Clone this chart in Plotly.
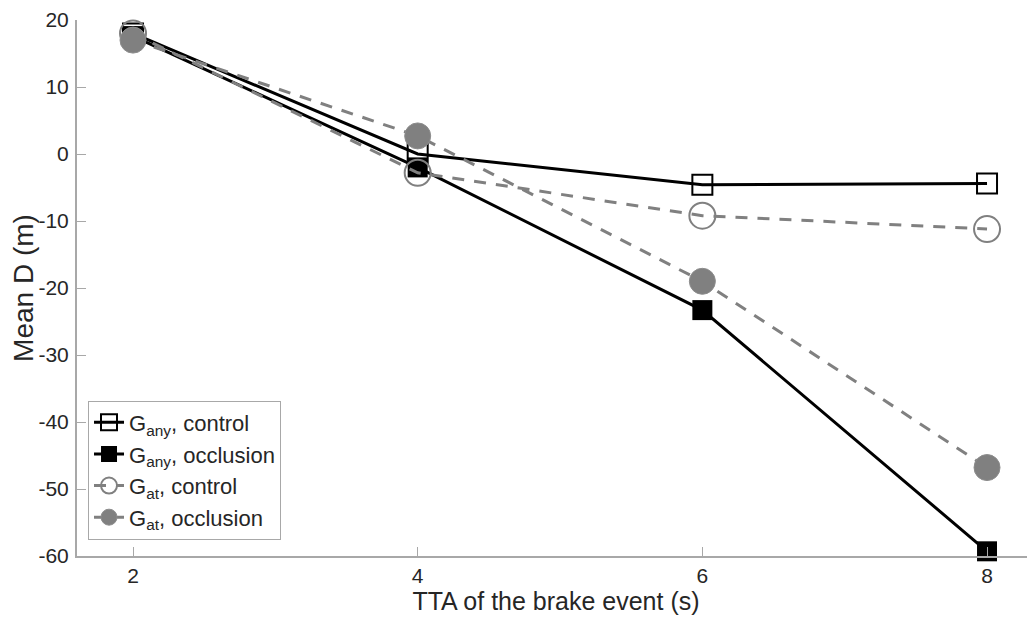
import plotly.graph_objects as go

tta = [2, 4, 6, 8]
gany_control = [18.0, 0.0, -4.6, -4.4]
gany_occlusion = [17.6, -2.0, -23.3, -59.3]
gat_control = [18.0, -2.8, -9.2, -11.2]
gat_occlusion = [17.0, 2.7, -19.0, -46.8]

x_ticks = [2, 4, 6, 8]
y_ticks = [20, 10, 0, -10, -20, -30, -40, -50, -60]
y_ticklabels = ["20", "10", "0", "-10", "-20", "-30", "-40", "-50", "-60"]

FONT = "Liberation Sans, Arial, sans-serif"
TXT = "#262626"
AX = "#a8a8a8"

fig = go.Figure()
fig.add_trace(go.Scatter(
    x=tta, y=gany_control, mode="lines+markers", cliponaxis=False,
    name="G<sub>any</sub>, control",
    line=dict(color="black", width=3),
    marker=dict(symbol="square-open", size=20, color="black", line=dict(width=2))))
fig.add_trace(go.Scatter(
    x=tta, y=gany_occlusion, mode="lines+markers", cliponaxis=False,
    name="G<sub>any</sub>, occlusion",
    line=dict(color="black", width=3),
    marker=dict(symbol="square", size=20, color="black")))
fig.add_trace(go.Scatter(
    x=tta, y=gat_control, mode="lines+markers", cliponaxis=False,
    name="G<sub>at</sub>, control",
    line=dict(color="#808080", width=3, dash="12px,10px"),
    marker=dict(symbol="circle-open", size=26, color="#808080", line=dict(width=2))))
fig.add_trace(go.Scatter(
    x=tta, y=gat_occlusion, mode="lines+markers", cliponaxis=False,
    name="G<sub>at</sub>, occlusion",
    line=dict(color="#808080", width=3, dash="12px,10px"),
    marker=dict(symbol="circle", size=26, color="#808080", line=dict(width=1, color="#8c8c8c"))))

axis_common = dict(
    showgrid=False, zeroline=False, showline=True, linecolor=AX, linewidth=2,
    ticks="inside", ticklen=9, tickcolor=AX, tickwidth=1,
    tickfont=dict(family=FONT, size=21, color=TXT),
    mirror=False, automargin=False, ticklabeloverflow="allow",
)
fig.update_xaxes(axis_common, range=[1.6065, 8.337], tickvals=x_ticks,
                 ticklabelstandoff=0,
                 title=dict(text="TTA of the brake event (s)", standoff=2,
                            font=dict(family=FONT, size=25, color=TXT)))
fig.update_yaxes(axis_common, range=[-60, 20], tickvals=y_ticks, ticktext=y_ticklabels,
                 ticklabelstandoff=2,
                 title=dict(text="Mean D (m)", standoff=5,
                            font=dict(family=FONT, size=28, color=TXT)))

# page body adds an 8px offset; the figure is sized to fill the rest of the window
fig.update_layout(
    width=1027, height=611,
    margin=dict(l=69, r=0, t=12, b=63),
    plot_bgcolor="white", paper_bgcolor="white",
    font=dict(family=FONT, color=TXT),
    legend=dict(x=0.0115, y=0.29, xanchor="left", yanchor="top",
                bgcolor="white", bordercolor=AX, borderwidth=1,
                font=dict(size=22, color=TXT), tracegroupgap=0,
                itemwidth=30),
)
fig.write_html("out.html")
